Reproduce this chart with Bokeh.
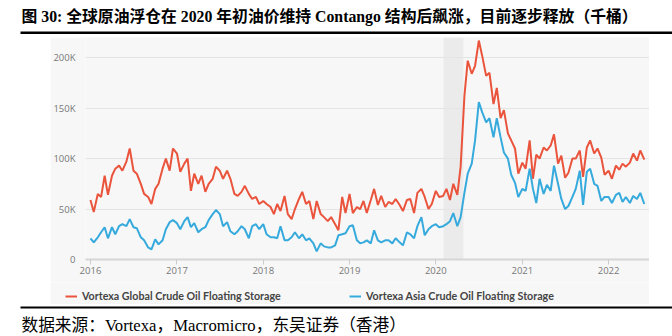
import pandas as pd
from bokeh.plotting import figure
from bokeh.layouts import column, row
from bokeh.models import (Range1d, FixedTicker, BoxAnnotation, Legend,
                          LegendItem, DatetimeTickFormatter, Spacer)
from bokeh.core.properties import value
from bokeh.embed import file_html
from bokeh.resources import INLINE

# ---------------- data (thousand barrels, semi-monthly) ----------------
dates = pd.date_range("2016-01-01", periods=155, freq="SMS")

global_storage = [
    59, 47, 65, 62, 83, 64, 83, 90, 93, 88, 97, 110, 88, 85, 75, 65, 62, 55, 70, 75, 90, 100, 88, 110,
    105, 87, 95, 100, 68, 85, 75, 83, 67, 75, 80, 92, 88, 80, 88, 80, 65, 63, 67, 73, 65, 60, 62, 55,
    58, 55, 52, 45, 55, 48, 63, 45, 40, 50, 60, 67, 55, 58, 40, 58, 45, 42, 38, 42, 35, 29, 62, 46,
    65, 46, 52, 50, 58, 46, 59, 70, 54, 63, 52, 57, 55, 60, 54, 48, 59, 60, 46, 66, 70, 62, 50, 55,
    68, 62, 63, 70, 59, 75, 64, 92, 162, 197, 184, 192, 217, 202, 182, 185, 154, 170, 140, 148, 125, 118, 110, 85,
    96, 90, 118, 80, 104, 100, 111, 108, 113, 124, 95, 103, 81, 86, 100, 100, 108, 82, 111, 118, 105, 110, 101, 84,
    88, 80, 93, 89, 95, 92, 96, 105, 98, 108, 99,
]

asia_storage = [
    21, 17, 22, 27, 32, 21, 32, 25, 33, 35, 33, 40, 32, 31, 22, 19, 12, 10, 20, 15, 19, 30, 37, 39,
    36, 30, 38, 42, 32, 36, 27, 30, 32, 39, 45, 49, 45, 33, 37, 28, 25, 28, 33, 30, 21, 33, 35, 30,
    35, 25, 22, 22, 21, 33, 19, 19, 22, 27, 21, 25, 19, 21, 16, 8, 16, 13, 12, 12, 14, 24, 25, 26,
    33, 34, 19, 16, 17, 19, 16, 29, 19, 17, 19, 19, 16, 21, 17, 14, 27, 25, 21, 33, 42, 24, 30, 33,
    35, 32, 33, 35, 38, 46, 33, 42, 66, 85, 95, 118, 156, 146, 136, 140, 121, 140, 121, 106, 100, 84, 76, 62,
    70, 68, 90, 70, 56, 80, 65, 74, 68, 93, 75, 60, 50, 53, 62, 70, 88, 54, 87, 90, 75, 73, 58, 62,
    62, 56, 64, 66, 57, 62, 56, 63, 60, 66, 55,
]

series_names = ["Vortexa Global Crude Oil Floating Storage",
                "Vortexa Asia Crude Oil Floating Storage"]
year_ticks = [2016, 2017, 2018, 2019, 2020, 2021, 2022]
y_ticks = [0, 50, 100, 150, 200]
y_tick_labels = ["0", "50K", "100K", "150K", "200K"]
shade_start, shade_end = "2020-02-03", "2020-04-27"

title_text = "图 30: 全球原油浮仓在 2020 年初油价维持 Contango 结构后飙涨，目前逐步释放（千桶）"
source_text = "数据来源：Vortexa，Macromicro，东吴证券（香港）"

RED = "#EA543C"
BLUE = "#36AADC"
PANEL = "#f7f7f7"
SERIF_CJK = "Liberation Serif, Noto Sans CJK SC"


def ms(s):
    return pd.Timestamp(s).timestamp() * 1000.0


def blank(w, h, bg="white"):
    f = figure(width=w, height=h, x_range=Range1d(0, w), y_range=Range1d(h, 0),
               x_axis_location=None, y_axis_location=None,
               output_backend="svg", toolbar_location=None, title=None,
               min_border=0, min_border_left=0, min_border_right=0,
               min_border_top=0, min_border_bottom=0)
    f.grid.visible = False
    f.outline_line_color = None
    f.background_fill_color = bg
    f.border_fill_color = bg
    return f


# ---------------- header ----------------
header = blank(672, 37)
header.text(x=[21], y=[16], text=[title_text], text_font=value(SERIF_CJK),
            text_font_style="bold", text_font_size="15.8px", text_color="black",
            text_baseline="middle", text_align="left")
header.quad(left=[20], right=[672], top=[31], bottom=[33.5], color="black", line_color=None)

# ---------------- chart ----------------
p = figure(width=599, height=245, x_axis_type="datetime",
           x_range=Range1d(ms("2015-12-11"), ms("2022-06-23")),
           y_range=Range1d(0, 220),
           output_backend="svg", toolbar_location=None, title=None,
           min_border_left=35, min_border_right=0,
           min_border_top=0, min_border_bottom=23)
p.background_fill_color = PANEL
p.border_fill_color = PANEL
p.outline_line_color = None

p.add_layout(BoxAnnotation(left=ms(shade_start), right=ms(shade_end),
                           fill_color="#ebebeb", fill_alpha=1, line_color=None,
                           level="image"))

p.xaxis.ticker = FixedTicker(ticks=[ms(f"{y}-01-01") for y in year_ticks])
p.xaxis.formatter = DatetimeTickFormatter(years="%Y", months="%Y", days="%Y",
                                          hours="%Y", minutes="%Y", seconds="%Y",
                                          milliseconds="%Y", microseconds="%Y")
p.xaxis.axis_line_color = "#d6d6d6"
p.xaxis.axis_line_width = 2
p.xaxis.major_tick_line_color = "#cccccc"
p.xaxis.major_tick_in = 0
p.xaxis.major_tick_out = 5
p.xaxis.minor_tick_line_color = None
p.xaxis.minor_tick_in = 0
p.xaxis.minor_tick_out = 0
p.xaxis.major_label_standoff = 2

p.yaxis.ticker = FixedTicker(ticks=y_ticks)
p.yaxis.major_label_overrides = dict(zip(y_ticks, y_tick_labels))
p.yaxis.axis_line_color = None
p.yaxis.major_tick_line_color = None
p.yaxis.minor_tick_line_color = None
p.yaxis.major_tick_in = 0
p.yaxis.major_tick_out = 0
p.yaxis.minor_tick_in = 0
p.yaxis.minor_tick_out = 0
p.yaxis.major_label_standoff = 10

for ax in (p.xaxis, p.yaxis):
    ax.major_label_text_font = "Open Sans"
    ax.major_label_text_font_size = "9.5px"
    ax.major_label_text_color = "#777777"

p.xgrid.grid_line_color = None
p.ygrid.grid_line_color = "#e4e4e4"
p.ygrid.grid_line_width = 1

p.line(dates, global_storage, line_color=RED, line_width=2)
p.line(dates, asia_storage, line_color=BLUE, line_width=2)

# ---------------- legend strip ----------------
leg_fig = blank(599, 22, PANEL)
lr1 = leg_fig.line([-50, -40], [-50, -50], line_color=RED, line_width=2)
lr2 = leg_fig.line([-50, -40], [-50, -50], line_color=BLUE, line_width=2)
for r, name, loc in [(lr1, series_names[0], (15, 2)), (lr2, series_names[1], (299, 2))]:
    leg = Legend(items=[LegendItem(label=name, renderers=[r])], location=loc,
                 glyph_width=12, glyph_height=10, label_height=10, label_standoff=5,
                 padding=0, margin=0, spacing=0, border_line_color=None,
                 background_fill_alpha=0,
                 label_text_font="Lato", label_text_font_style="bold",
                 label_text_font_size="10.7px", label_text_color="#444444")
    leg_fig.add_layout(leg)

# ---------------- footer ----------------
footer = blank(672, 32)
footer.quad(left=[20], right=[672], top=[2], bottom=[4], color="black", line_color=None)
footer.text(x=[21], y=[21], text=[source_text], text_font=value(SERIF_CJK),
            text_font_size="16.7px", text_color="black",
            text_baseline="middle", text_align="left")

layout = column(
    header,
    row(Spacer(width=50, height=245), p, Spacer(width=23, height=245)),
    row(Spacer(width=50, height=22), leg_fig, Spacer(width=23, height=22)),
    footer,
)

open("out.html", "w").write(file_html(layout, INLINE))
